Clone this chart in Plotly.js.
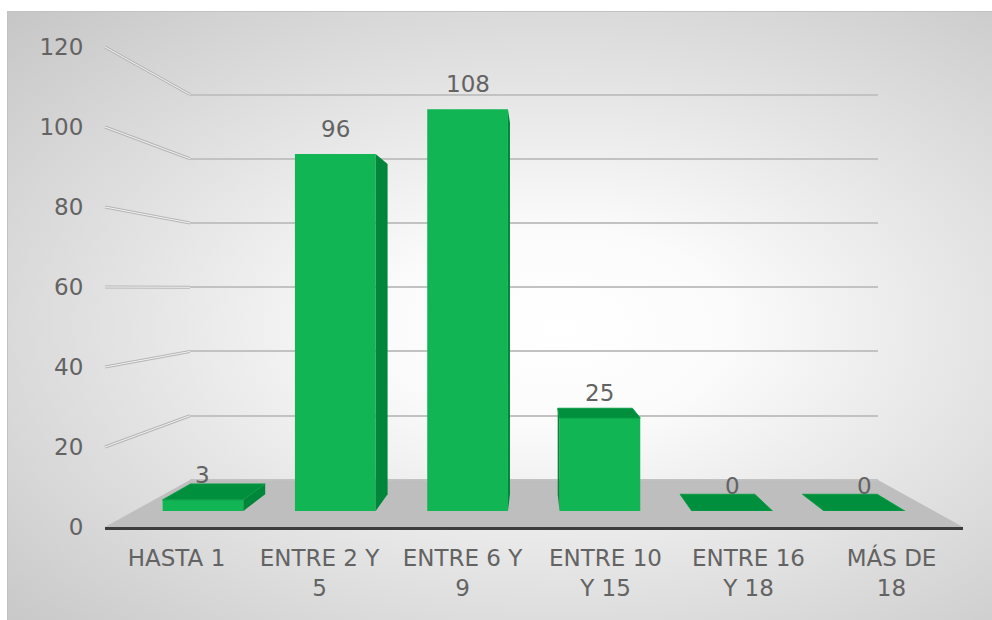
<!DOCTYPE html>
<html><head><meta charset="utf-8">
<script src="https://cdn.plot.ly/plotly-3.0.1.min.js"></script>
<style>
html,body{margin:0;padding:0;background:#fff;}
#wrap{position:relative;width:992px;height:620px;overflow:hidden;}
#bg{position:absolute;left:7px;top:11px;width:985px;height:609px;box-sizing:border-box;border-left:1px solid #c2c2c2;border-top:1px solid #c2c2c2;
background:radial-gradient(ellipse farthest-corner at 56% 52%, #ffffff 0%, #fbfbfb 22%, #e4e4e4 55%, #c6c6c6 100%);}
#chart{position:absolute;left:0;top:0;width:992px;height:620px;}
</style></head>
<body><div id="wrap"><div id="bg"></div><div id="chart"></div></div>
<script>
// ---- data ----
const categories = ['HASTA 1', 'ENTRE 2 Y<br>5', 'ENTRE 6 Y<br>9', 'ENTRE 10<br>Y 15', 'ENTRE 16<br>Y 18', 'MÁS DE<br>18'];
const values = [3, 96, 108, 25, 0, 0];
const yTicks = [0, 20, 40, 60, 80, 100, 120];

// ---- geometry / style constants ----
const FONT = {family: 'DejaVu Sans', size: 23, color: '#636363'};
const backX = [0.099, 0.901];   // back wall horizontal domain (paper)
const backY = [0.098, 0.901];   // back wall vertical span of 0..yMax (paper)
const barX = [0.0371, 0.9623];
const barY = [0.0333, 0.9633];
const yMax = 120;
const pad = 1;                   // small range padding so the top gridline is drawn
const backUnit = (backY[1] - backY[0]) / yMax;
const barW = 0.61;
const VPX = 2.51, VPY = 60, K = 0.075; // perspective helpers (bar subplot units)
const FRONT = '#12b553', SIDE = '#00863a', TOP = '#008f3d';

const idx = categories.map((c, i) => i);

const traces = [];
traces.push({type: 'scatter', mode: 'markers', x: [], y: [], xaxis: 'x', yaxis: 'y', hoverinfo: 'skip', showlegend: false});
traces.push({type: 'scatter', mode: 'markers', x: [], y: [], xaxis: 'x2', yaxis: 'y2', hoverinfo: 'skip', showlegend: false});

traces.push({
  type: 'bar', x: idx, y: values, xaxis: 'x3', yaxis: 'y3', width: barW,
  marker: {color: FRONT, line: {width: 0}}, hoverinfo: 'skip', showlegend: false
});

function toBack(x, y) { return [x + K * (VPX - x), y + K * (VPY - y)]; }

values.forEach((v, i) => {
  const xl = i - barW / 2, xr = i + barW / 2;
  const xs = (i < VPX) ? xr : xl;
  const bt = toBack(xs, v), bb = toBack(xs, 0);
  if (v > 0) {
    traces.push({
      type: 'scatter', mode: 'lines', xaxis: 'x3', yaxis: 'y3', fill: 'toself',
      x: [xs, xs, bt[0], bb[0], xs], y: [0, v, bt[1], bb[1], 0],
      fillcolor: SIDE, line: {width: 0}, hoverinfo: 'skip', showlegend: false
    });
  }
  if (v < VPY) {
    const pl = toBack(xl, v), pr = toBack(xr, v);
    traces.push({
      type: 'scatter', mode: 'lines', xaxis: 'x3', yaxis: 'y3', fill: 'toself',
      x: [xl, xr, pr[0], pl[0], xl], y: [v, v, pr[1], pl[1], v],
      fillcolor: TOP, line: {width: 1, color: '#0a9c45'}, hoverinfo: 'skip', showlegend: false
    });
  }
});

const shapes = [];
shapes.push({
  type: 'path', xref: 'paper', yref: 'paper', layer: 'below',
  path: `M 0,0 L ${backX[0]},${backY[0]} L ${backX[1]},${backY[0]} L 1,0 Z`,
  fillcolor: '#bebebe', line: {width: 0}
});
yTicks.filter(t => t > 0).forEach(t => {
  const yf = t / yMax, yb = backY[0] + t * backUnit;
  shapes.push({type: 'line', xref: 'paper', yref: 'paper', layer: 'below',
    x0: 0, y0: yf, x1: backX[0], y1: yb, line: {color: '#b5b5b5', width: 3}});
  shapes.push({type: 'line', xref: 'paper', yref: 'paper', layer: 'below',
    x0: 0, y0: yf, x1: backX[0], y1: yb, line: {color: '#f3f3f3', width: 1}});
});

const annotations = values.map((v, i) => ({
  xref: 'x3', yref: 'y3', x: i, y: v, text: String(v), showarrow: false,
  yshift: 25, font: FONT
}));

const layout = {
  width: 992, height: 620,
  margin: {l: 105, r: 29, t: 47, b: 93},
  paper_bgcolor: 'rgba(0,0,0,0)', plot_bgcolor: 'rgba(0,0,0,0)',
  showlegend: false, font: FONT,
  xaxis: {domain: [0, 1], range: [-0.5, 5.5], tickvals: idx, ticktext: categories,
    showgrid: false, zeroline: false, showline: true, linecolor: '#3c3c3c', linewidth: 3,
    ticks: 'outside', ticklen: 8, tickcolor: 'rgba(0,0,0,0)', tickfont: FONT, anchor: 'y', fixedrange: true},
  yaxis: {domain: [0, 1], range: [0, yMax], tickvals: yTicks, showgrid: false, zeroline: false,
    showline: false, ticks: 'outside', ticklen: 16, tickcolor: 'rgba(0,0,0,0)', tickfont: FONT, anchor: 'x', fixedrange: true},
  xaxis2: {domain: backX, range: [0, 1], anchor: 'y2', showgrid: false, zeroline: false,
    showline: false, showticklabels: false, ticks: ''},
  yaxis2: {domain: [backY[0] - pad * backUnit, backY[1] + pad * backUnit], range: [-pad, yMax + pad],
    anchor: 'x2', tickvals: yTicks, showgrid: true,
    gridcolor: '#c2c2c2', gridwidth: 2, zeroline: false, showline: false, showticklabels: false, ticks: ''},
  xaxis3: {domain: barX, range: [-0.5, 5.5], anchor: 'y3', showgrid: false, zeroline: false,
    showline: false, showticklabels: false, ticks: ''},
  yaxis3: {domain: barY, range: [0, yMax], anchor: 'x3', showgrid: false, zeroline: false,
    showline: false, showticklabels: false, ticks: ''},
  shapes: shapes, annotations: annotations
};

Plotly.newPlot('chart', traces, layout, {displayModeBar: false, staticPlot: true});
</script></body></html>
